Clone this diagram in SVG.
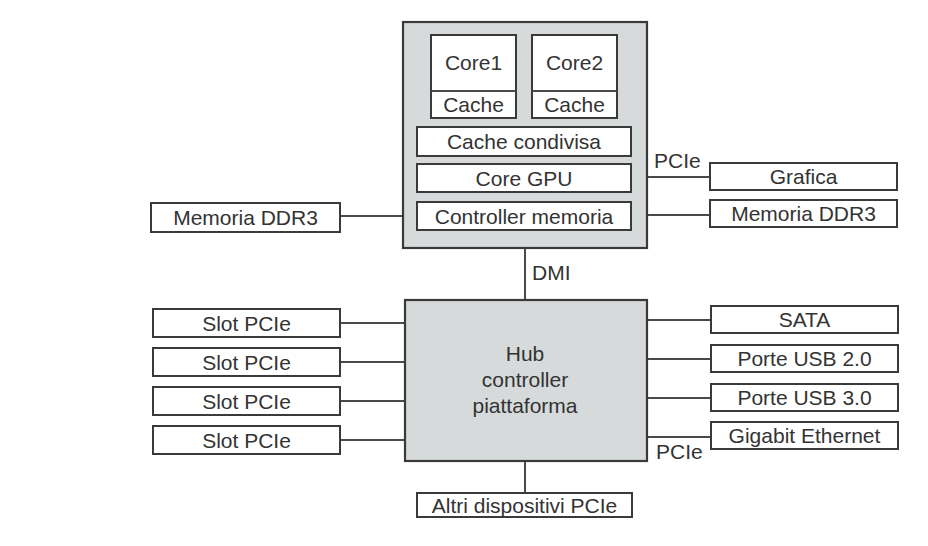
<svg xmlns="http://www.w3.org/2000/svg" width="928" height="546" viewBox="0 0 928 546">
<style>
.bg{fill:#ffffff}
.chip{fill:#d6dadb;stroke:#3a3a3a;stroke-width:2.2}
.box{fill:#ffffff;stroke:#3a3a3a;stroke-width:2}
.ln{stroke:#4a4a4a;stroke-width:2;fill:none}
text{font-family:"Liberation Sans",Arial,sans-serif;font-size:21px;fill:#333333;text-anchor:middle}
.lbl{text-anchor:start}
</style>
<rect class="bg" x="0" y="0" width="928" height="546"/>
<g id="connectors">
<line class="ln" x1="340" y1="216" x2="417" y2="216"/>
<line class="ln" x1="631" y1="215" x2="710" y2="215"/>
<line class="ln" x1="647" y1="177" x2="710" y2="177"/>
<line class="ln" x1="525" y1="248" x2="525" y2="300"/>
<line class="ln" x1="525" y1="461" x2="525" y2="493"/>
<line class="ln" x1="340" y1="323" x2="405" y2="323"/>
<line class="ln" x1="340" y1="362" x2="405" y2="362"/>
<line class="ln" x1="340" y1="401" x2="405" y2="401"/>
<line class="ln" x1="340" y1="440" x2="405" y2="440"/>
<line class="ln" x1="647" y1="320" x2="711" y2="320"/>
<line class="ln" x1="647" y1="359" x2="711" y2="359"/>
<line class="ln" x1="647" y1="398" x2="711" y2="398"/>
<line class="ln" x1="647" y1="437" x2="711" y2="437"/>
<text class="lbl" x="654" y="168">PCIe</text>
<text class="lbl" x="532" y="280">DMI</text>
<text class="lbl" x="656" y="459">PCIe</text>
</g>
<g id="cpu">
<rect class="chip" x="403" y="22" width="244" height="226"/>
</g>
<g id="core1">
<rect class="box" x="431" y="35" width="85" height="83"/>
<line class="ln" x1="431" y1="91" x2="516" y2="91"/>
<text x="473.5" y="70">Core1</text>
<text x="473.5" y="112">Cache</text>
</g>
<g id="core2">
<rect class="box" x="532" y="35" width="85" height="83"/>
<line class="ln" x1="532" y1="91" x2="617" y2="91"/>
<text x="574.5" y="70">Core2</text>
<text x="574.5" y="112">Cache</text>
</g>
<g id="cache-condivisa">
<rect class="box" x="417" y="127" width="214" height="29"/>
<text x="524" y="149">Cache condivisa</text>
</g>
<g id="core-gpu">
<rect class="box" x="417" y="164" width="214" height="28"/>
<text x="524" y="185.5">Core GPU</text>
</g>
<g id="controller-memoria">
<rect class="box" x="417" y="202" width="214" height="28"/>
<text x="524" y="223.5">Controller memoria</text>
</g>
<g id="memoria-sx">
<rect class="box" x="151" y="203" width="189" height="29"/>
<text x="245.5" y="225">Memoria DDR3</text>
</g>
<g id="grafica">
<rect class="box" x="710" y="163" width="187" height="27"/>
<text x="803.5" y="184">Grafica</text>
</g>
<g id="memoria-dx">
<rect class="box" x="710" y="200" width="187" height="27"/>
<text x="803.5" y="221">Memoria DDR3</text>
</g>
<g id="hub">
<rect class="chip" x="405" y="300" width="242" height="161"/>
<text x="525" y="361">Hub</text>
<text x="525" y="387">controller</text>
<text x="525" y="413">piattaforma</text>
</g>
<g id="slot1">
<rect class="box" x="153" y="309" width="187" height="28"/>
<text x="246.5" y="330.5">Slot PCIe</text>
</g>
<g id="slot2">
<rect class="box" x="153" y="348" width="187" height="28"/>
<text x="246.5" y="369.5">Slot PCIe</text>
</g>
<g id="slot3">
<rect class="box" x="153" y="387" width="187" height="28"/>
<text x="246.5" y="408.5">Slot PCIe</text>
</g>
<g id="slot4">
<rect class="box" x="153" y="426" width="187" height="28"/>
<text x="246.5" y="447.5">Slot PCIe</text>
</g>
<g id="sata">
<rect class="box" x="711" y="306" width="187" height="27"/>
<text x="804.5" y="327">SATA</text>
</g>
<g id="usb2">
<rect class="box" x="711" y="345" width="187" height="27"/>
<text x="804.5" y="366">Porte USB 2.0</text>
</g>
<g id="usb3">
<rect class="box" x="711" y="384" width="187" height="27"/>
<text x="804.5" y="405">Porte USB 3.0</text>
</g>
<g id="ethernet">
<rect class="box" x="711" y="422" width="187" height="27"/>
<text x="804.5" y="443">Gigabit Ethernet</text>
</g>
<g id="altri">
<rect class="box" x="417" y="493" width="215" height="24"/>
<text x="524.5" y="512.5">Altri dispositivi PCIe</text>
</g>
</svg>
